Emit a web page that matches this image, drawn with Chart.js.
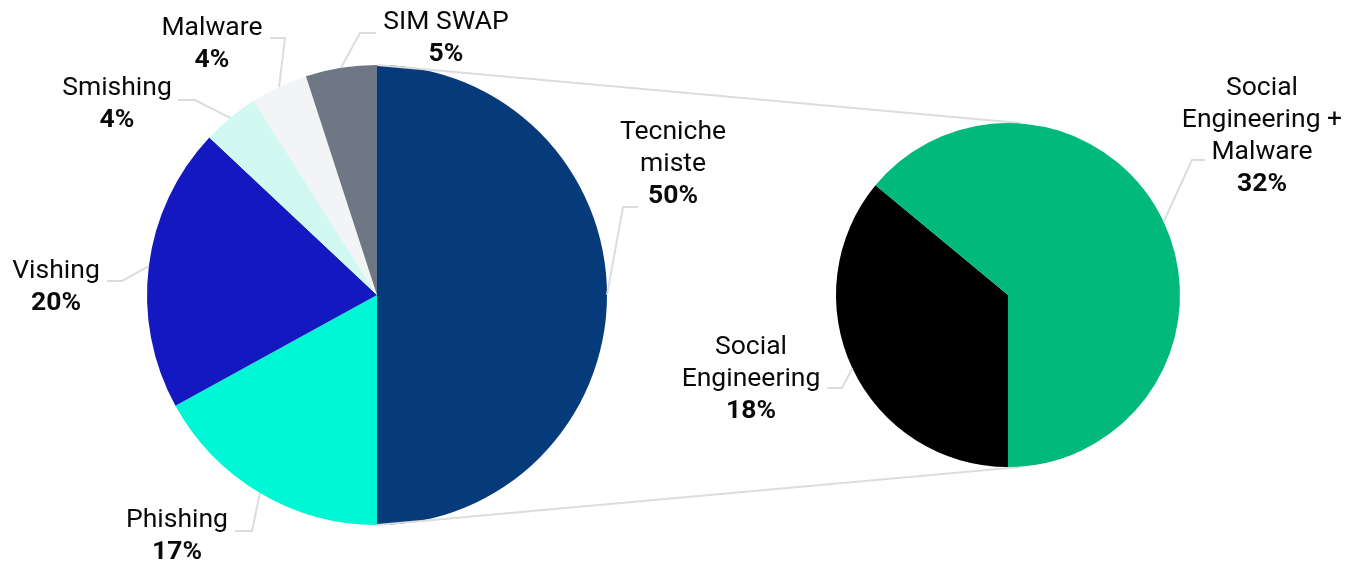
<!DOCTYPE html>
<html>
<head>
<meta charset="utf-8">
<script src="https://cdn.jsdelivr.net/npm/chart.js@4"></script>
<style>
  html, body { margin: 0; padding: 0; background: #fff; }
  #wrap { position: relative; width: 1346px; height: 563px; }
  #wrap canvas { position: absolute; left: 0; top: 0; }
</style>
</head>
<body>
<div id="wrap">
  <canvas id="chartMain" width="1346" height="563"></canvas>
  <canvas id="chartSplit" width="1346" height="563"></canvas>
</div>
<script>
const mainLabels = [['Tecniche', 'miste'], 'Phishing', 'Vishing', 'Smishing', 'Malware', 'SIM SWAP'];
const mainValues = [50, 17, 20, 4, 4, 5];
const mainColors = ['#063B7B', '#00F7D6', '#1318C1', '#D2F8F2', '#F3F4F6', '#6F7684'];

const splitLabels = [['Social', 'Engineering'], ['Social', 'Engineering +', 'Malware']];
const splitValues = [18, 32];
const splitColors = ['#000000', '#00B97A'];

const LINE = '#dcdcdc';
const TEXT = '#0a0a0a';
const FONT_PX = 26.5;

// callout placement, offsets from the pie centre: elbow point, tail end x, text centre x, first line y
const mainPlace = [
  { elbow: [246, -88], tail: 261, tx: 296, ty: -163 },
  { elbow: [-125, 236], tail: -142, tx: -200, ty: 225 },
  { elbow: [-255, -14], tail: -270, tx: -321, ty: -24 },
  { elbow: [-182, -195], tail: -199, tx: -260, ty: -207 },
  { elbow: [-92, -257], tail: -107, tx: -165, ty: -267 },
  { elbow: [-17, -262], tail: -1, tx: 69, ty: -273 },
];
const splitPlace = [
  { elbow: [-166, 93], tail: -181, tx: -257, ty: 52 },
  { elbow: [184, -135], tail: 197, tx: 254, ty: -207 },
];

Chart.defaults.font.family = 'Roboto, "Noto Sans", sans-serif';

const callouts = {
  id: 'callouts',
  afterDatasetsDraw(chart, args, opts) {
    const ctx = chart.ctx;
    const meta = chart.getDatasetMeta(0);
    const data = chart.data.datasets[0].data;
    ctx.save();
    meta.data.forEach((arc, i) => {
      const p = opts.place[i];
      const { x, y, outerRadius, startAngle, endAngle } =
        arc.getProps(['x', 'y', 'outerRadius', 'startAngle', 'endAngle'], true);
      const mid = (startAngle + endAngle) / 2;
      const ax = x + Math.cos(mid) * outerRadius;
      const ay = y + Math.sin(mid) * outerRadius;
      ctx.strokeStyle = LINE;
      ctx.lineWidth = 2;
      ctx.beginPath();
      ctx.moveTo(ax, ay);
      ctx.lineTo(x + p.elbow[0], y + p.elbow[1]);
      ctx.lineTo(x + p.tail, y + p.elbow[1]);
      ctx.stroke();

      const label = chart.data.labels[i];
      const lines = Array.isArray(label) ? label : [label];
      ctx.fillStyle = TEXT;
      ctx.textAlign = 'center';
      ctx.textBaseline = 'middle';
      ctx.font = FONT_PX + 'px Roboto';
      lines.forEach((t, k) => ctx.fillText(t, x + p.tx, y + p.ty + k * 32));
      ctx.font = 'bold ' + FONT_PX + 'px Roboto';
      ctx.fillText(data[i] + '%', x + p.tx, y + p.ty + lines.length * 32);
    });
    ctx.restore();
  }
};

function pieOptions(padding, rotation, place) {
  return {
    responsive: false,
    animation: false,
    events: [],
    rotation: rotation,
    layout: { padding: padding },
    plugins: {
      legend: { display: false },
      tooltip: { enabled: false },
      callouts: { place: place },
    },
  };
}

const mainChart = new Chart(document.getElementById('chartMain'), {
  type: 'pie',
  data: {
    labels: mainLabels,
    datasets: [{ data: mainValues, backgroundColor: mainColors, borderWidth: 0 }],
  },
  options: pieOptions({ left: 147, top: 65, right: 739, bottom: 38 }, 0, mainPlace),
  plugins: [callouts],
});

// grey lines joining the split slice to the secondary pie
const joinLines = {
  id: 'joinLines',
  beforeDatasetsDraw(chart) {
    const src = mainChart.getDatasetMeta(0).data[0];
    const dst = chart.getDatasetMeta(0).data[0];
    const ctx = chart.ctx;
    const r = src.outerRadius;
    const r2 = dst.outerRadius;
    ctx.save();
    ctx.strokeStyle = LINE;
    ctx.lineWidth = 2;
    ctx.beginPath();
    ctx.moveTo(src.x + Math.cos(src.startAngle) * r, src.y + Math.sin(src.startAngle) * r);
    ctx.lineTo(dst.x + 12, dst.y - r2);
    ctx.moveTo(src.x + Math.cos(src.endAngle) * r, src.y + Math.sin(src.endAngle) * r);
    ctx.lineTo(dst.x + 12, dst.y + r2);
    ctx.stroke();
    ctx.restore();
  }
};

new Chart(document.getElementById('chartSplit'), {
  type: 'pie',
  data: {
    labels: splitLabels,
    datasets: [{ data: splitValues, backgroundColor: splitColors, borderWidth: 0 }],
  },
  options: pieOptions({ left: 836, top: 123, right: 166, bottom: 96 }, 180, splitPlace),
  plugins: [joinLines, callouts],
});
</script>
</body>
</html>
